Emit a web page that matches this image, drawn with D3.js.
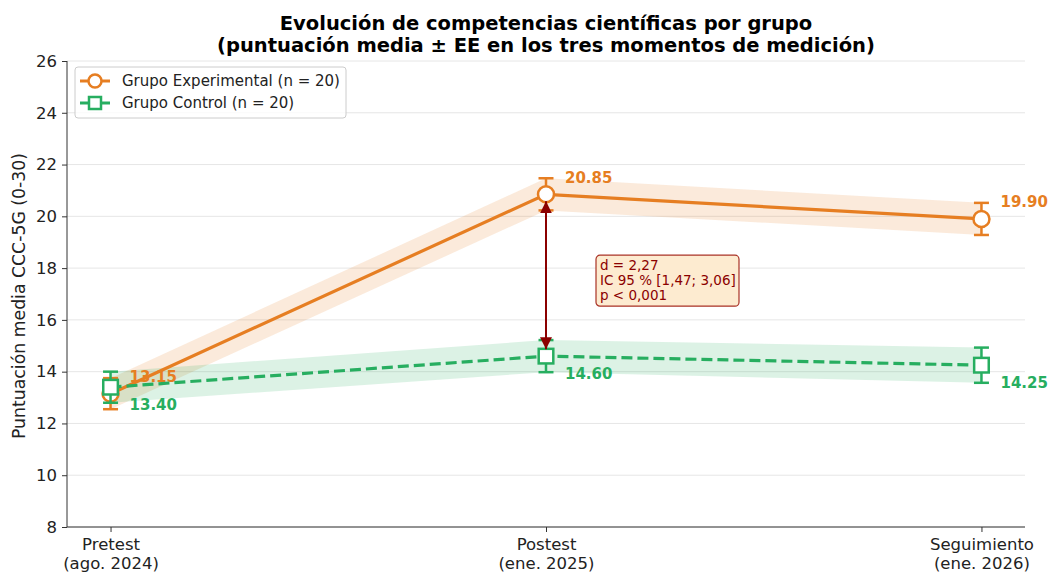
<!DOCTYPE html>
<html>
<head>
<meta charset="utf-8">
<script src="https://cdn.jsdelivr.net/npm/d3@7"></script>
<style>
  body { margin: 0; background: #fff; }
  text { font-family: "DejaVu Sans", sans-serif; }
</style>
</head>
<body>
<div id="chart"></div>
<script>
var svgWidth = 1049;
var svgHeight = 572;

var margin = { top: 61, right: 24, bottom: 45, left: 67 };
var width = svgWidth - margin.left - margin.right;
var height = svgHeight - margin.top - margin.bottom;

// data
var moments = ["Pretest", "Postest", "Seguimiento"];
var momentDates = ["(ago. 2024)", "(ene. 2025)", "(ene. 2026)"];
var expMeans = [13.15, 20.85, 19.90];
var expSE = [0.60, 0.62, 0.62];
var ctrlMeans = [13.40, 14.60, 14.25];
var ctrlSE = [0.60, 0.62, 0.68];
var yTicks = [8, 10, 12, 14, 16, 18, 20, 22, 24, 26];
var effectLines = ["d = 2,27", "IC 95 % [1,47; 3,06]", "p < 0,001"];

var orange = "#e67e22";
var green = "#27ae60";
var darkRed = "#8b0000";

var series = [
  { name: "Grupo Experimental (n = 20)", means: expMeans, se: expSE, color: orange, dash: null, marker: "circle", labelDy: -17 },
  { name: "Grupo Control (n = 20)", means: ctrlMeans, se: ctrlSE, color: green, dash: "11,5", marker: "square", labelDy: 18 }
];

var svg = d3.select("#chart").append("svg")
  .attr("width", svgWidth)
  .attr("height", svgHeight);

var chartGroup = svg.append("g")
  .attr("transform", `translate(${margin.left}, ${margin.top})`);

var x = d3.scaleLinear().domain([-0.1, 2.1]).range([0, width]);
var y = d3.scaleLinear().domain([8, 26]).range([height, 0]);

// grid
chartGroup.append("g").selectAll("line")
  .data(yTicks)
  .enter().append("line")
  .attr("x1", 0).attr("x2", width)
  .attr("y1", d => y(d)).attr("y2", d => y(d))
  .attr("stroke", "#e6e6e6").attr("stroke-width", 1);

// axes
var leftAxis = d3.axisLeft(y).tickValues(yTicks).tickSize(5).tickPadding(5);
var yAxis = chartGroup.append("g").call(leftAxis);
yAxis.select(".domain").attr("d", `M0,0V${height}`).attr("stroke", "#333");
yAxis.selectAll(".tick line").attr("stroke", "#333");
yAxis.selectAll("text").style("font-size", "16.5px").attr("fill", "#222");

var bottomAxis = d3.axisBottom(x).tickValues([0, 1, 2]).tickSize(5).tickFormat("");
var xAxis = chartGroup.append("g")
  .attr("transform", `translate(0, ${height})`)
  .call(bottomAxis);
xAxis.select(".domain").attr("d", `M0,0H${width}`).attr("stroke", "#333");
xAxis.selectAll(".tick line").attr("stroke", "#333");
xAxis.selectAll(".tick").append("text")
  .attr("text-anchor", "middle")
  .attr("fill", "#222")
  .style("font-size", "16.5px")
  .each(function(d) {
    var t = d3.select(this);
    t.append("tspan").attr("x", 0).attr("y", 23).text(moments[d]);
    t.append("tspan").attr("x", 0).attr("y", 41.5).text(momentDates[d]);
  });

// y label
svg.append("text")
  .attr("transform", `translate(25, ${margin.top + height / 2 + 2}) rotate(-90)`)
  .attr("text-anchor", "middle")
  .style("font-size", "17.3px")
  .attr("fill", "#222")
  .text("Puntuación media CCC-5G (0-30)");

// title
svg.append("text")
  .attr("x", margin.left + width / 2).attr("y", 30)
  .attr("text-anchor", "middle")
  .style("font-size", "19.5px").style("font-weight", "bold")
  .text("Evolución de competencias científicas por grupo");
svg.append("text")
  .attr("x", margin.left + width / 2).attr("y", 52)
  .attr("text-anchor", "middle")
  .style("font-size", "19.5px").style("font-weight", "bold")
  .text("(puntuación media ± EE en los tres momentos de medición)");

// bands
series.forEach(function(s) {
  var area = d3.area()
    .x((d, i) => x(i))
    .y0((d, i) => y(d - s.se[i]))
    .y1((d, i) => y(d + s.se[i]));
  chartGroup.append("path")
    .datum(s.means)
    .attr("d", area)
    .attr("fill", s.color)
    .attr("fill-opacity", 0.16);
});

function drawMarker(g, s, cx, cy, size) {
  if (s.marker === "circle") {
    g.append("circle")
      .attr("cx", cx).attr("cy", cy).attr("r", size)
      .attr("fill", "#fff").attr("stroke", s.color).attr("stroke-width", 2.5);
  } else {
    g.append("rect")
      .attr("x", cx - size).attr("y", cy - size)
      .attr("width", size * 2).attr("height", size * 2)
      .attr("fill", "#fff").attr("stroke", s.color).attr("stroke-width", 2.5);
  }
}

// lines, error bars, markers
series.forEach(function(s) {
  var g = chartGroup.append("g");
  var line = d3.line().x((d, i) => x(i)).y(d => y(d));
  g.append("path")
    .datum(s.means)
    .attr("d", line)
    .attr("fill", "none")
    .attr("stroke", s.color)
    .attr("stroke-width", 3.2)
    .attr("stroke-dasharray", s.dash);

  s.means.forEach(function(m, i) {
    var cx = x(i);
    g.append("line")
      .attr("x1", cx).attr("x2", cx)
      .attr("y1", y(m - s.se[i])).attr("y2", y(m + s.se[i]))
      .attr("stroke", s.color).attr("stroke-width", 2.5);
    [m - s.se[i], m + s.se[i]].forEach(function(v) {
      g.append("line")
        .attr("x1", cx - 7.5).attr("x2", cx + 7.5)
        .attr("y1", y(v)).attr("y2", y(v))
        .attr("stroke", s.color).attr("stroke-width", 2.5);
    });
    drawMarker(g, s, cx, y(m), s.marker === "circle" ? 8 : 7.3);
    g.append("text")
      .attr("x", cx + 19).attr("y", y(m) + s.labelDy)
      .attr("dy", "0.35em")
      .attr("fill", s.color)
      .style("font-size", "15px").style("font-weight", "bold")
      .text(m.toFixed(2));
  });
});

// effect size arrow at postest
var defs = svg.append("defs");
["start", "end"].forEach(function(k) {
  defs.append("marker")
    .attr("id", "arrow-" + k)
    .attr("viewBox", "0 0 10 10")
    .attr("refX", 10).attr("refY", 5)
    .attr("markerWidth", 6).attr("markerHeight", 6)
    .attr("orient", k === "start" ? "auto-start-reverse" : "auto")
    .append("path")
    .attr("d", "M0,0L10,5L0,10z")
    .attr("fill", darkRed);
});
chartGroup.append("line")
  .attr("x1", x(1)).attr("x2", x(1))
  .attr("y1", y(expMeans[1]) + 7).attr("y2", y(ctrlMeans[1]) - 7)
  .attr("stroke", darkRed).attr("stroke-width", 2)
  .attr("marker-start", "url(#arrow-start)")
  .attr("marker-end", "url(#arrow-end)");

var box = chartGroup.append("g")
  .attr("transform", `translate(${x(1) + 50}, ${y(18.5)})`);
box.append("rect")
  .attr("x", 0).attr("y", 0)
  .attr("width", 143).attr("height", 51)
  .attr("rx", 4)
  .attr("fill", "#fdebd0")
  .attr("stroke", "#a93226").attr("stroke-width", 1.2);
effectLines.forEach(function(t, i) {
  box.append("text")
    .attr("x", 4).attr("y", 15 + i * 15)
    .attr("fill", darkRed)
    .style("font-size", "13.5px")
    .text(t);
});

// legend
var legend = svg.append("g").attr("transform", "translate(75, 67)");
legend.append("rect")
  .attr("width", 271).attr("height", 51).attr("rx", 3)
  .attr("fill", "#fff").attr("fill-opacity", 0.8)
  .attr("stroke", "#ccc");
series.forEach(function(s, i) {
  var ly = 14 + i * 22;
  var lg = legend.append("g");
  lg.append("line")
    .attr("x1", 5).attr("x2", 35).attr("y1", ly).attr("y2", ly)
    .attr("stroke", s.color).attr("stroke-width", 3);
  drawMarker(lg, s, 20, ly, s.marker === "circle" ? 6.5 : 6);
  lg.append("text")
    .attr("x", 47).attr("y", ly).attr("dy", "0.35em")
    .style("font-size", "15px").attr("fill", "#222")
    .text(s.name);
});
</script>
</body>
</html>
